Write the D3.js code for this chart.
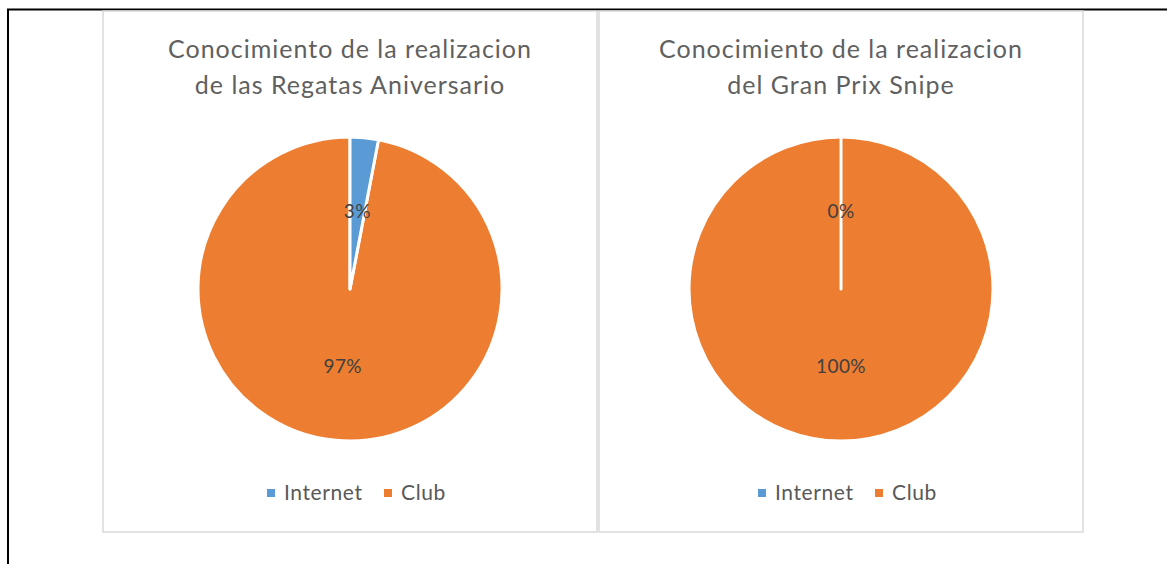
<!DOCTYPE html>
<html>
<head>
<meta charset="utf-8">
<script src="https://cdn.jsdelivr.net/npm/d3@7"></script>
<style>
  body { margin: 0; background: #fff; }
  svg { display: block; font-family: Lato, "Open Sans", sans-serif; }
</style>
</head>
<body>
<div id="chart"></div>
<script>
// data
const categories = ["Internet", "Club"];
const colors = ["#5b9bd5", "#ed7d31"];
const titles = [
  ["Conocimiento de la realizacion", "de las Regatas Aniversario"],
  ["Conocimiento de la realizacion", "del Gran Prix Snipe"]
];
const regatasValues = [3, 97];
const granPrixValues = [0, 100];
const percentLabels = [["3%", "97%"], ["0%", "100%"]];

const width = 1167, height = 564;

const svg = d3.select("#chart").append("svg")
  .attr("width", width)
  .attr("height", height);

// page frame (black lines on top and left)
svg.append("line").attr("x1", 7).attr("x2", width).attr("y1", 9.5).attr("y2", 9.5)
  .attr("stroke", "#000").attr("stroke-width", 2);
svg.append("line").attr("x1", 8).attr("x2", 8).attr("y1", 9).attr("y2", height)
  .attr("stroke", "#000").attr("stroke-width", 2);

const panels = [
  { x: 103, w: 494, values: regatasValues },
  { x: 599, w: 484, values: granPrixValues }
];

const pie = d3.pie().sort(null).value(d => d);
const radius = 152;
const arc = d3.arc().innerRadius(0).outerRadius(radius);
const labelArc = d3.arc().innerRadius(radius * 0.51).outerRadius(radius * 0.51);

panels.forEach((p, i) => {
  const g = svg.append("g").attr("transform", `translate(${p.x},11)`);

  g.append("rect")
    .attr("x", 0).attr("y", 0)
    .attr("width", p.w).attr("height", 521)
    .attr("fill", "#fff")
    .attr("stroke", "#d9d9d9")
    .attr("stroke-width", 1.5);

  const cx = i === 0 ? 247 : 242;

  g.selectAll(".title")
    .data(titles[i])
    .enter().append("text")
    .attr("x", cx)
    .attr("y", (d, j) => 47 + j * 36)
    .attr("text-anchor", "middle")
    .attr("fill", "#606060")
    .style("font-size", "25px")
    .style("letter-spacing", "1px")
    .text(d => d);

  const pg = g.append("g").attr("transform", `translate(${cx},278)`);
  const arcs = pie(p.values);

  // draw Club first so the zero slice edge stays visible
  pg.selectAll("path")
    .data(arcs.slice().reverse())
    .enter().append("path")
    .attr("d", arc)
    .attr("fill", d => colors[d.index])
    .attr("stroke", "#fff")
    .attr("stroke-width", 3)
    .attr("stroke-linejoin", "round");

  pg.selectAll(".lbl")
    .data(arcs)
    .enter().append("text")
    .attr("class", "lbl")
    .attr("transform", d => `translate(${labelArc.centroid(d)})`)
    .attr("dy", "0.35em")
    .attr("text-anchor", "middle")
    .attr("fill", "#404040")
    .style("font-size", "19px")
    .style("letter-spacing", "0.4px")
    .text((d, j) => percentLabels[i][j]);

  // legend
  const lg = g.append("g").attr("transform", `translate(${cx - 83},482)`);
  const offsets = [0, 117];
  const item = lg.selectAll(".leg")
    .data(categories)
    .enter().append("g")
    .attr("transform", (d, j) => `translate(${offsets[j]},0)`);
  item.append("rect")
    .attr("x", 0).attr("y", -4)
    .attr("width", 8).attr("height", 8)
    .attr("fill", (d, j) => colors[j]);
  item.append("text")
    .attr("x", 17).attr("y", 0)
    .attr("dy", "0.35em")
    .attr("fill", "#595959")
    .style("font-size", "21px")
    .style("letter-spacing", "0.6px")
    .text(d => d);
});
</script>
</body>
</html>
